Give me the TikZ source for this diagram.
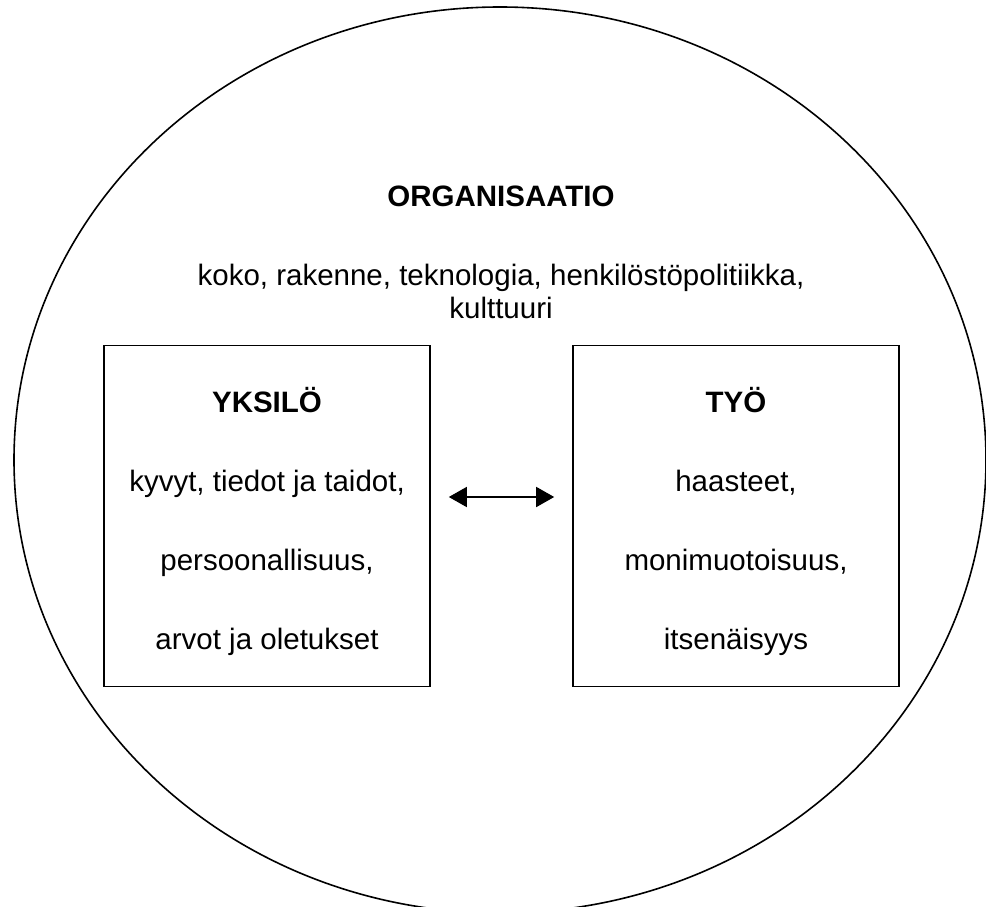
\documentclass[tikz,border=0pt]{standalone}
\usepackage{fontspec}
\setmainfont{Liberation Sans}
\usetikzlibrary{positioning,arrows.meta,shapes.geometric}

\begin{document}
\begin{tikzpicture}[
  x=1pt, y=-1pt,
  txt/.style={font=\fontsize{29.5}{33}\selectfont, align=center, inner sep=0pt},
  box/.style={draw, line width=1.6pt, minimum width=326pt, minimum height=341pt, inner sep=0pt},
  boxtxt/.style={align=center, inner sep=0pt, font=\fontsize{29.5}{79}\selectfont},
  arr/.style={{Triangle[length=18pt,width=20pt]}-{Triangle[length=18pt,width=20pt]}, line width=1.6pt}
]
\useasboundingbox (0,0) rectangle (986,907);
\node[draw, ellipse, line width=1.6pt, minimum width=972pt, minimum height=906pt, inner sep=0pt] (org) at (500,460) {};
\node[txt, font=\fontsize{29.5}{33}\selectfont\bfseries, anchor=base] (orgtitle) at (501,206) {ORGANISAATIO};
\node[txt, below=57pt of orgtitle] (orgtext) {koko, rakenne, teknologia, henkilöstöpolitiikka,\\kulttuuri};

\node[box] (yks) at (267,516) {};
\node[box] (tyo) at (736,516) {};
\node[boxtxt] (ykstxt) at ([yshift=-5pt]yks.center) {\textbf{YKSILÖ}\\kyvyt, tiedot ja taidot,\\persoonallisuus,\\arvot ja oletukset};
\node[boxtxt] (tyotxt) at ([yshift=-5pt]tyo.center) {\textbf{TYÖ}\\haasteet,\\monimuotoisuus,\\itsenäisyys};

\draw[arr, shorten <=18pt, shorten >=18pt] ([yshift=19pt]yks.east) -- ([yshift=19pt]tyo.west);
\end{tikzpicture}
\end{document}
